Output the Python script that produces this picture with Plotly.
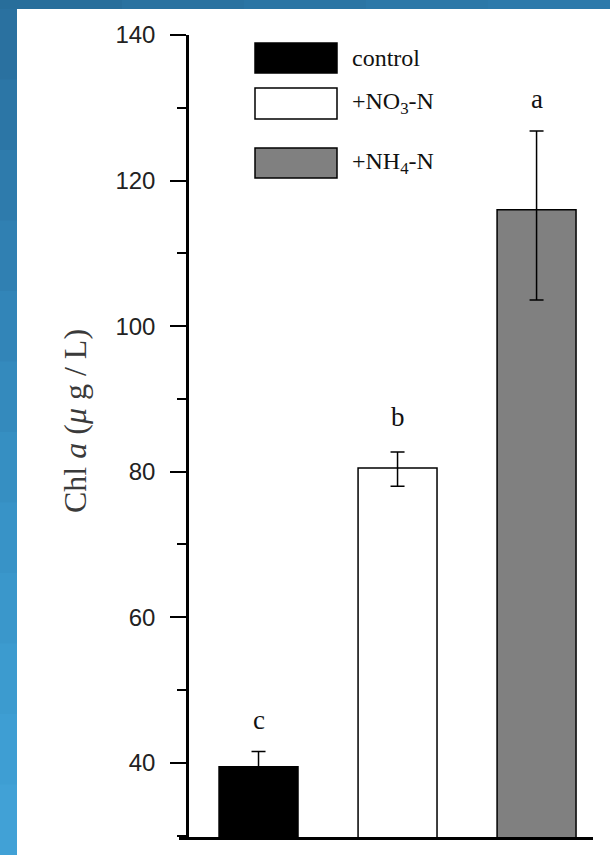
import plotly.graph_objects as go

# ---- data ----
categories = ["control", "+NO<sub>3</sub>-N", "+NH<sub>4</sub>-N"]
chl_values = [39.45, 80.5, 116.0]
err_plus = [2.1, 2.2, 10.8]
err_minus = [2.1, 2.5, 12.4]
letters = ["c", "b", "a"]
letter_y = [45.9, 87.5, 131.2]
bar_colors = ["#000000", "#ffffff", "#808080"]
y_ticks = [40, 60, 80, 100, 120, 140]

W, H = 610, 855
L, R, T, B = 179, 17, 35, 18
PW = W - L - R
PH = H - T - B


def px(xp):
    return (xp - L) / PW


def py(yp):
    return (H - B - yp) / PH


x_pos = list(range(len(categories)))

fig = go.Figure()
fig.add_trace(go.Bar(
    x=x_pos, y=chl_values, width=0.568,
    marker=dict(color=bar_colors, line=dict(color="#000000", width=1.5)),
    error_y=dict(type="data", array=err_plus, arrayminus=err_minus,
                 color="#000000", thickness=1.5, width=7),
    showlegend=False, hoverinfo="y",
))

annotations = []
for xi, lt, ly in zip(x_pos, letters, letter_y):
    annotations.append(dict(x=xi, y=ly, xref="x", yref="y", text=lt, showarrow=False,
                            font=dict(family="Liberation Serif", size=27, color="#111111"),
                            xanchor="center", yanchor="middle"))

shapes = []
# background frame (blue gradient strips)
top_cols = ["#286e9b", "#2a72a0", "#2b75a4", "#2c78a8", "#2d7aab"]
n = len(top_cols)
for i, c in enumerate(top_cols):
    shapes.append(dict(type="rect", xref="paper", yref="paper",
                       x0=px(W * i / n), x1=px(W * (i + 1) / n + 2), y0=py(9), y1=py(-2),
                       fillcolor=c, line=dict(width=0), layer="below"))
left_cols = ["#2a71a0", "#2c76a6", "#2e7bac", "#3080b2", "#3285b8", "#348abd",
             "#368fc2", "#3893c7", "#3a97cb", "#3c9bcf", "#3e9ed3", "#41a1d6"]
n = len(left_cols)
for i, c in enumerate(left_cols):
    shapes.append(dict(type="rect", xref="paper", yref="paper",
                       x0=px(-2), x1=px(17), y0=py(9 + (H - 9) * (i + 1) / n + 2),
                       y1=py(9 + (H - 9) * i / n),
                       fillcolor=c, line=dict(width=0), layer="below"))

# legend boxes
leg_boxes = [(43, 73), (88, 119), (148, 178)]
leg_text_y = [58, 103, 163]
for (y0, y1), c, ty, name in zip(leg_boxes, bar_colors, leg_text_y, categories):
    shapes.append(dict(type="rect", xref="paper", yref="paper",
                       x0=px(255), x1=px(337), y0=py(y1), y1=py(y0),
                       fillcolor=c, line=dict(color="#000000", width=1.5)))
    annotations.append(dict(x=px(350), y=py(ty), xref="paper", yref="paper", text=name,
                            showarrow=False, xanchor="left", yanchor="middle",
                            font=dict(family="Liberation Serif", size=24, color="#111111")))

# y-axis title
annotations.append(dict(x=px(75), y=py(421), xref="paper", yref="paper",
                        text="Chl <i>a</i> (<i>μ</i> g / L)", textangle=-90, showarrow=False,
                        xanchor="center", yanchor="middle",
                        font=dict(family="Liberation Serif", size=32, color="#3a3a3a")))

fig.update_layout(
    width=W, height=H,
    margin=dict(l=L, r=R, t=T, b=B, pad=0),
    paper_bgcolor="#ffffff", plot_bgcolor="rgba(0,0,0,0)",
    shapes=shapes, annotations=annotations,
    xaxis=dict(range=[-0.572, 2.406], showgrid=False, zeroline=False, showline=True,
               linecolor="#000000", linewidth=2.5, showticklabels=False, ticks="",
               domain=[0, 1], fixedrange=True),
    yaxis=dict(range=[29.8, 140], anchor="free", position=8 / PW, showgrid=False,
               zeroline=False, showline=True, linecolor="#000000", linewidth=2.5,
               tickmode="array", tickvals=y_ticks, ticks="outside", ticklen=16,
               tickwidth=2, tickcolor="#000000",
               minor=dict(dtick=10, tick0=30, ticks="outside", ticklen=9, tickwidth=2,
                          tickcolor="#000000"),
               tickfont=dict(family="Liberation Sans", size=24, color="#222222"),
               ticklabelstandoff=10, fixedrange=True),
)

fig.write_html("out.html", config={"displayModeBar": False},
               post_script="document.body.style.margin='0';document.body.style.overflow='hidden';")
